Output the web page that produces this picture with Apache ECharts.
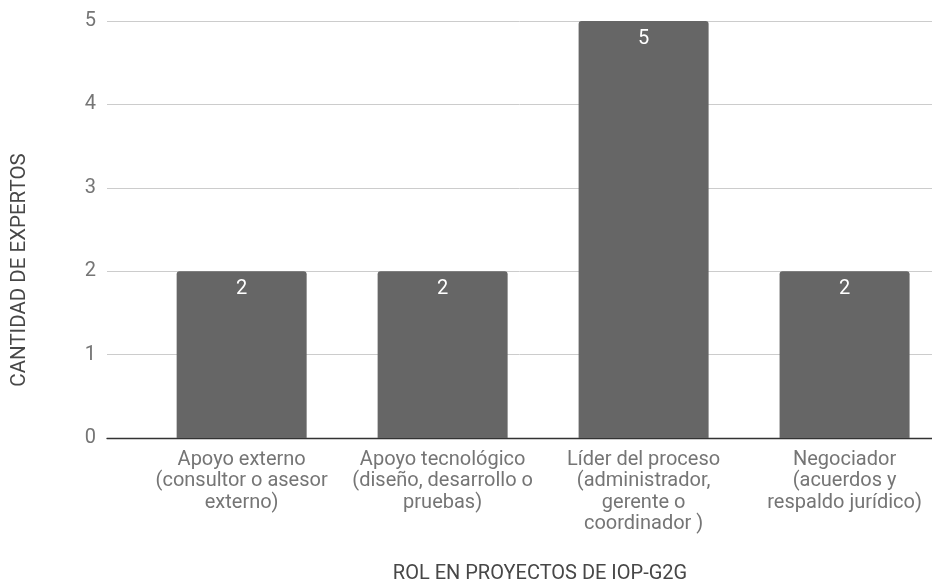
<!DOCTYPE html>
<html>
<head>
<meta charset="utf-8">
<script src="https://cdn.jsdelivr.net/npm/echarts@6/dist/echarts.min.js"></script>
<style>
  html, body { margin: 0; padding: 0; background: #fff; }
  #chart { width: 932px; height: 583px; }
</style>
</head>
<body>
<div id="chart"></div>
<script>
const roles = [
  'Apoyo externo\n(consultor o asesor\nexterno)',
  'Apoyo tecnológico\n(diseño, desarrollo o\npruebas)',
  'Líder del proceso\n(administrador,\ngerente o\ncoordinador )',
  'Negociador\n(acuerdos y\nrespaldo jurídico)',
];
const expertos = [2, 2, 5, 2];
const yTicks = [0, 1, 2, 3, 4, 5];
const xTitle = 'ROL EN PROYECTOS DE IOP-G2G';
const yTitle = 'CANTIDAD DE EXPERTOS';

const FONT = 'Roboto';
const GREY = '#757575';
const DARK = '#474747';

// bars sit at x = 0..3 on a value axis; the plot is cut on the right,
// so the visible range runs a bit past the last bar
const X_MIN = -0.67;
const X_MAX = 3.435;
const barData = expertos.map((v, i) => [i, v]);
const labelPos = roles.map((_, i) => i);

const chart = echarts.init(document.getElementById('chart'));
chart.setOption({
  animation: false,
  textStyle: { fontFamily: FONT },
  grid: { left: 107, right: 0, top: 21, bottom: 145 },
  xAxis: {
    type: 'value',
    min: X_MIN,
    max: X_MAX,
    splitLine: { show: false },
    axisTick: { show: false },
    axisLine: { show: true, onZero: false, lineStyle: { color: '#333', width: 1.3 } },
    axisLabel: {
      customValues: labelPos,
      formatter: (v) => roles[Math.round(v)] || '',
      color: GREY,
      fontSize: 20,
      lineHeight: 21.5,
      margin: 11,
      align: 'center',
    },
  },
  yAxis: {
    type: 'value',
    min: yTicks[0],
    max: yTicks[yTicks.length - 1],
    interval: 1,
    axisLine: { show: false },
    axisTick: { show: false },
    axisLabel: { color: GREY, fontSize: 20, margin: 11 },
    splitLine: { lineStyle: { color: '#cccccc', width: 1 } },
  },
  graphic: [
    {
      type: 'text',
      x: 540,
      y: 574,
      style: {
        text: xTitle,
        font: '20px ' + FONT,
        fill: DARK,
        align: 'center',
        verticalAlign: 'middle',
      },
    },
    {
      type: 'text',
      x: 20,
      y: 270,
      rotation: Math.PI / 2,
      style: {
        text: yTitle,
        font: '20.5px ' + FONT,
        fill: DARK,
        align: 'center',
        verticalAlign: 'middle',
      },
    },
  ],
  series: [
    {
      type: 'bar',
      data: barData,
      barWidth: 130,
      z: 5,
      itemStyle: { color: '#666666', borderRadius: [3, 3, 0, 0] },
      label: {
        show: true,
        position: 'insideTop',
        distance: 8,
        color: '#ffffff',
        fontSize: 20,
        formatter: (p) => p.value[1],
      },
    },
  ],
});
</script>
</body>
</html>
